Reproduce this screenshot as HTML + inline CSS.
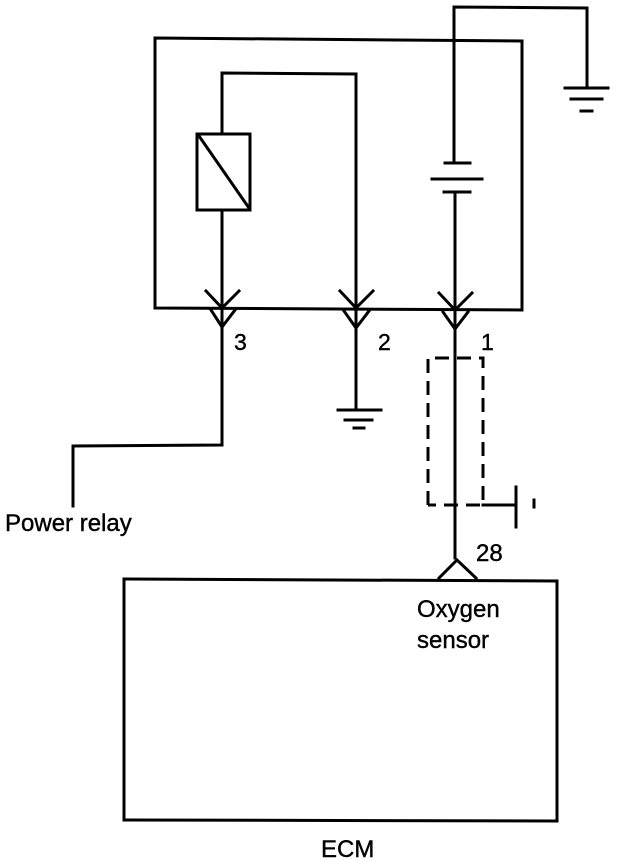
<!DOCTYPE html>
<html><head><style>
html,body{margin:0;padding:0;background:#fff;}
svg{display:block;}
text{font-family:"Liberation Sans",Arial,sans-serif;fill:#000;stroke:#000;stroke-width:0.4;}
</style></head><body>
<svg width="624" height="860" viewBox="0 0 624 860" xmlns="http://www.w3.org/2000/svg">
<g stroke="#000" stroke-width="3" fill="none" stroke-linecap="square">
<path d="M155,38 L522,41 L522,310 L155,308 Z"/>
<path d="M222,134 L222,73 L356,74 L356,308"/>
<rect x="197" y="134" width="53" height="76"/>
<path d="M199,136 L249,208"/>
<path d="M222,210 L222,445 L73,446 L73,506"/>
<path d="M454,163 L454,7 L587,8 L587,88"/>
<path d="M445,163 L470,163"/>
<path d="M432,179 L482,179"/>
<path d="M444,192 L470,192"/>
<path d="M455,192 L455,558"/>
<path d="M565,88 L608,88 M571,99 L602,99 M581,111 L592,111"/>
<path d="M356,308 L356,410 M338,410 L381,410 M345,420 L372,420 M354,428 L364,428"/>
<path d="M206,291 L222,308 L239,291 M211,310 L222,327 L235,310"/>
<path d="M340,291 L356,308 L373,291 M344,311 L356,328 L369,311"/>
<path d="M439,293 L455,310 L472,293 M443,312 L455,329 L468,312"/>
<path d="M483,505 L515,505 M516,487 L516,527 M534,500 L534,507"/>
<path d="M439,578 L457,560 L476,578"/>
<path d="M124,579 L557,581 L557,821 L124,820 Z"/>
</g>
<g stroke="#000" stroke-width="3" fill="none" stroke-dasharray="14,8">
<path d="M428,505 L428,358 L483,358 L483,505 L428,505"/>
</g>
<text x="234" y="350" font-size="23">3</text>
<text x="378" y="350" font-size="23">2</text>
<text x="481" y="350" font-size="23">1</text>
<text x="5" y="531" font-size="24">Power relay</text>
<text x="476" y="561" font-size="24">28</text>
<text x="417" y="617" font-size="24">Oxygen</text>
<text x="417" y="648" font-size="24">sensor</text>
<text x="321" y="857" font-size="24">ECM</text>
</svg>
</body></html>
